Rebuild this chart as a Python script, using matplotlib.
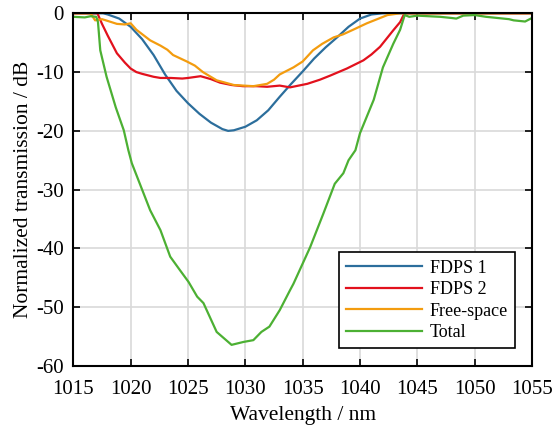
import matplotlib
matplotlib.use("Agg")
import matplotlib.pyplot as plt

plt.rcParams['font.family'] = ['Liberation Serif', 'DejaVu Serif']
plt.rcParams['axes.unicode_minus'] = False

# FDPS 1
wl_fdps1 = [1015, 1017, 1017.6, 1018, 1019, 1020, 1021, 1022, 1023, 1024, 1025, 1026,
            1027, 1028, 1028.5, 1029, 1030, 1031, 1032, 1033, 1034, 1035, 1036, 1037,
            1038, 1039, 1040, 1041, 1042, 1055]
db_fdps1 = [0, 0, 0, -0.2, -0.9, -2.3, -4.4, -7.1, -10.4, -13.2, -15.3, -17.1,
            -18.6, -19.7, -20.0, -19.9, -19.3, -18.2, -16.5, -14.2, -12.0, -9.9, -7.7, -5.8,
            -4.1, -2.3, -0.9, -0.2, 0, 0]

# FDPS 2
wl_fdps2 = [1015, 1017.1, 1017.5, 1018, 1018.8, 1019.5, 1020, 1020.5, 1021, 1022, 1022.6,
            1023.5, 1024.5, 1025, 1026.1, 1027, 1027.8, 1028.8, 1029.8, 1031, 1031.9,
            1033, 1033.9, 1035.4, 1036.5, 1037.4, 1038.85, 1040.3, 1041.0, 1041.75,
            1042.9, 1043.5, 1043.8, 1044, 1055]
db_fdps2 = [0, 0, -1.8, -3.8, -6.8, -8.4, -9.4, -10.0, -10.3, -10.8, -11.0,
            -11.0, -11.1, -11.0, -10.7, -11.2, -11.8, -12.2, -12.4, -12.4, -12.5,
            -12.3, -12.6, -12.0, -11.3, -10.6, -9.4, -8.0, -7.0, -5.7,
            -2.9, -1.5, -0.3, 0, 0]

# Free-space
wl_free = [1015, 1016.5, 1016.9, 1017.5, 1018, 1018.8, 1019.5, 1020, 1020.5, 1021.7,
           1022.6, 1023.2, 1023.7, 1024.9, 1025.6, 1026.3, 1027.5, 1029, 1030.7, 1031.3,
           1031.9, 1032.5, 1033, 1034.2, 1035, 1035.9, 1036.7, 1037.7, 1038.5, 1039.4,
           1040.6, 1041.5, 1042.4, 1043.5, 1055]
db_free = [0, 0, -1.2, -1.0, -1.3, -1.8, -1.9, -1.7, -2.8, -4.6,
           -5.5, -6.2, -7.1, -8.2, -8.9, -10.0, -11.4, -12.2, -12.4, -12.2,
           -12.0, -11.3, -10.4, -9.2, -8.2, -6.3, -5.2, -4.1, -3.6, -2.8,
           -1.7, -1.0, -0.3, 0, 0]

# Total
wl_total = [1015, 1016, 1016.5, 1017.0, 1017.15, 1017.35, 1017.9, 1018.7, 1019.4, 1019.8,
            1020.1, 1020.8, 1021.7, 1022.6, 1023.45, 1024.3, 1025.05, 1025.8, 1026.35,
            1027.5, 1028.8, 1029.85, 1030.7, 1031.4, 1032.1, 1033.0, 1033.9, 1034.2,
            1035.65, 1036.8, 1037.8, 1038.55, 1039.0, 1039.6, 1040.0, 1041.2, 1042.0,
            1042.9, 1043.5, 1043.9, 1044.3, 1045, 1046, 1047, 1048, 1048.4, 1049, 1050,
            1051, 1052, 1053, 1053.4, 1054.4, 1055]
db_total = [-0.6, -0.7, -0.5, -0.6, -1.5, -6.3, -10.8, -16.0, -19.9, -23.3,
            -25.5, -29.0, -33.5, -36.9, -41.4, -43.7, -45.7, -48.2, -49.3,
            -54.2, -56.4, -55.9, -55.6, -54.2, -53.3, -50.5, -47.1, -46.0,
            -39.8, -34.1, -29.0, -27.2, -25.0, -23.3, -20.4, -14.7, -9.2,
            -5.2, -2.8, -0.3, -0.6, -0.4, -0.5, -0.6, -0.8, -0.9, -0.4, -0.3,
            -0.6, -0.8, -1.0, -1.2, -1.4, -0.8]

x_ticks = [1015, 1020, 1025, 1030, 1035, 1040, 1045, 1050, 1055]
y_ticks = [0, -10, -20, -30, -40, -50, -60]

fig = plt.figure(figsize=(5.53, 4.26), dpi=100)
ax = fig.add_axes([0.1326, 0.1408, 0.8294, 0.8280])

ax.plot(wl_fdps1, db_fdps1, color='#2c6e9c', lw=1.6, label='FDPS 1')
ax.plot(wl_fdps2, db_fdps2, color='#e2111d', lw=1.6, label='FDPS 2')
ax.plot(wl_free, db_free, color='#f39c0f', lw=1.6, label='Free-space')
ax.plot(wl_total, db_total, color='#4cb033', lw=1.6, label='Total')

ax.set_xlim(1015, 1055)
ax.set_ylim(-60, 0)
ax.set_xticks(x_ticks)
ax.set_yticks(y_ticks)
ax.grid(True, color='#d9d9d9', lw=1.2)
ax.set_axisbelow(True)
ax.tick_params(direction='in', length=5, width=1.2, top=True, right=True,
               labelsize=15)
ax.tick_params(axis='x', pad=10)
ax.tick_params(axis='y', pad=7)
for s in ax.spines.values():
    s.set_linewidth(1.5)

ax.set_xlabel('Wavelength / nm', fontsize=15.5, labelpad=5)
ax.set_ylabel('Normalized transmission / dB', fontsize=15.5, labelpad=2)

leg = ax.legend(loc='lower right', bbox_to_anchor=(0.963, 0.05), borderaxespad=0,
                fontsize=13, handlelength=4.2, handletextpad=0.4, labelspacing=0.25,
                borderpad=0.4, fancybox=False, framealpha=1, edgecolor='black')
leg.get_frame().set_linewidth(1.2)

fig.savefig('out.png', dpi=100)
